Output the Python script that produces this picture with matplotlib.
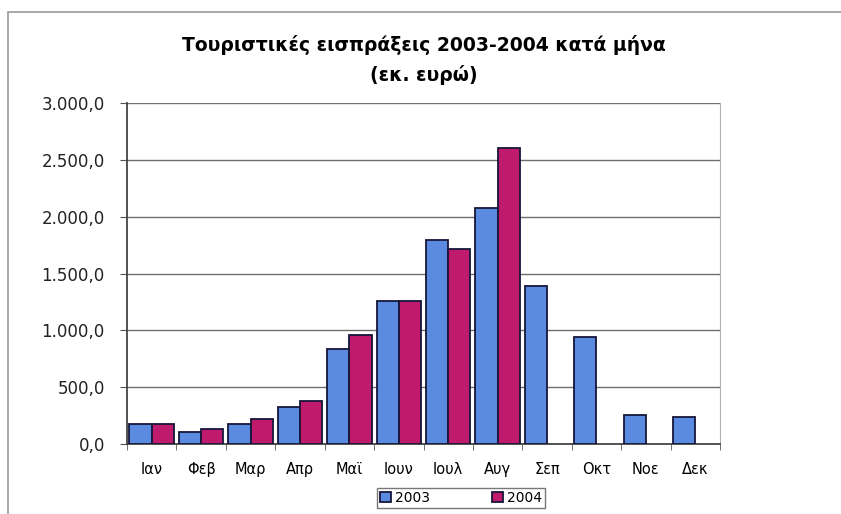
import numpy as np
import matplotlib
matplotlib.use("Agg")
import matplotlib.pyplot as plt
from matplotlib.patches import Rectangle
from matplotlib.ticker import FuncFormatter, MultipleLocator

plt.rcParams['font.family'] = ['DejaVu Sans']

months = ["Ιαν", "Φεβ", "Μαρ", "Απρ", "Μαϊ", "Ιουν", "Ιουλ", "Αυγ", "Σεπ", "Οκτ", "Νοε", "Δεκ"]
receipts_2003 = [176, 105, 175, 325, 835, 1260, 1795, 2077, 1390, 942, 255, 238]
receipts_2004 = [176, 130, 220, 380, 960, 1260, 1716, 2605, np.nan, np.nan, np.nan, np.nan]
series_labels = ["2003", "2004"]
title = "Τουριστικές εισπράξεις 2003-2004 κατά μήνα\n(εκ. ευρώ)"

W, H = 841, 514
fig = plt.figure(figsize=(W / 100, H / 100), dpi=100)
fig.patch.set_facecolor("white")

# outer chart-area frame
fig.patches.append(Rectangle((8 / W, -0.1), 1.2, 1.1 - 12 / H, transform=fig.transFigure,
                             fill=False, edgecolor="#9a9a9a", linewidth=1.2, clip_on=False))

ax = fig.add_axes([127 / W, 1 - 444 / H, (720 - 127) / W, (444 - 103) / H])

x = np.arange(len(months))
bw = 0.45
edge = "#16163a"
ax.bar(x - bw / 2, receipts_2003, width=bw, color="#5a8be0", edgecolor=edge, linewidth=1.3,
       label=series_labels[0], zorder=3)
ax.bar(x + bw / 2, receipts_2004, width=bw, color="#c01a6c", edgecolor=edge, linewidth=1.3,
       label=series_labels[1], zorder=3)

ax.set_xlim(-0.5, len(months) - 0.5)
ax.set_ylim(0, 3000)
ax.yaxis.set_major_locator(MultipleLocator(500))


def greek_fmt(v, pos):
    s = f"{v:,.1f}"
    return s.replace(",", "X").replace(".", ",").replace("X", ".")


ax.yaxis.set_major_formatter(FuncFormatter(greek_fmt))
ax.grid(axis="y", color="#6e6e6e", linewidth=1.0, zorder=0)
ax.set_axisbelow(True)

ax.set_xticks(x)
ax.set_xticklabels(months, fontsize=10.5)
ax.set_xticks(np.arange(-0.5, len(months)), minor=True)
ax.tick_params(axis="x", which="major", length=0, pad=13)
ax.tick_params(axis="x", which="minor", length=4, color="#555555", direction="out")
ax.tick_params(axis="y", length=5, color="#555555", labelsize=12, pad=11)
for lbl in ax.get_yticklabels():
    lbl.set_color("#222222")

for s in ("left", "bottom"):
    ax.spines[s].set_color("#444444")
    ax.spines[s].set_linewidth(1.3)
ax.spines["right"].set_color("#b0b0b0")
ax.spines["top"].set_visible(False)

fig.text(424 / W, 1 - 60 / H, title, ha="center", va="center", fontsize=13.5,
         fontweight="bold", linespacing=1.6)

leg = fig.legend(loc="upper center", bbox_to_anchor=(461 / W, 1 - 488 / H), ncol=2,
                 frameon=True, fancybox=False, edgecolor="#555555", fontsize=10,
                 handlelength=0.8, handleheight=0.7, handletextpad=0.3,
                 columnspacing=4.4, borderpad=0.2, borderaxespad=0.0)
leg.get_frame().set_linewidth(1.0)

fig.savefig("out.png", dpi=100, facecolor="white")
